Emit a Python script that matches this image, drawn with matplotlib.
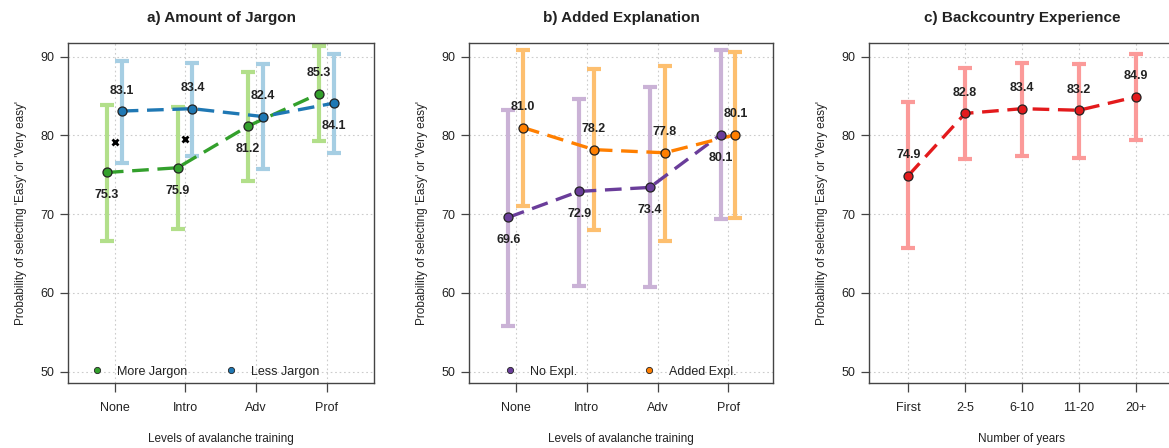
import matplotlib

matplotlib.use('Agg')
import matplotlib.pyplot as plt
from matplotlib.lines import Line2D
import numpy as np

plt.rcParams['font.family'] = ['Liberation Sans', 'DejaVu Sans']

# --- data ---
training = ['None', 'Intro', 'Adv', 'Prof']
years = ['First', '2-5', '6-10', '11-20', '20+']

more_jargon = [75.3, 75.9, 81.2, 85.3]
more_jargon_lo = [66.6, 68.1, 74.2, 79.3]
more_jargon_hi = [83.9, 83.6, 88.1, 91.3]
less_jargon = [83.1, 83.4, 82.4, 84.1]
less_jargon_lo = [76.5, 77.4, 75.8, 77.8]
less_jargon_hi = [89.5, 89.2, 89.1, 90.4]
jargon_cross = [79.2, 79.6]  # black x markers at None / Intro

no_expl = [69.6, 72.9, 73.4, 80.1]
no_expl_lo = [55.8, 60.9, 60.7, 69.4]
no_expl_hi = [83.2, 84.6, 86.1, 90.9]
added_expl = [81.0, 78.2, 77.8, 80.1]
added_expl_lo = [71.1, 68.0, 66.6, 69.5]
added_expl_hi = [90.9, 88.4, 88.8, 90.6]

experience = [74.9, 82.8, 83.4, 83.2, 84.9]
experience_lo = [65.7, 77.0, 77.4, 77.2, 79.4]
experience_hi = [84.2, 88.6, 89.2, 89.1, 90.3]

W, H = 1169, 448
fig = plt.figure(figsize=(W / 100, H / 100), dpi=100)

TXT = '#222222'
SPINE = '#444444'
YLIM = (48.57, 91.74)


def setup_axes(ax, labels, xlim, title, xlabel):
    x = np.arange(1, len(labels) + 1)
    ax.set_xlim(*xlim)
    ax.set_ylim(*YLIM)
    ax.set_xticks(x)
    ax.set_xticklabels(labels)
    ax.set_yticks([50, 60, 70, 80, 90])
    ax.grid(True, color='#cccccc', linestyle=(0, (1.5, 2.5)), linewidth=0.8)
    ax.set_axisbelow(True)
    ax.tick_params(axis='both', direction='out', width=0.9,
                   colors=SPINE, labelcolor=TXT, labelsize=9)
    ax.tick_params(axis='x', length=6.5, pad=7)
    ax.tick_params(axis='y', length=5.5, pad=4)
    for s in ax.spines.values():
        s.set_color(SPINE)
        s.set_linewidth(1.0)
    ax.set_title(title, fontsize=11, fontweight='bold', color=TXT, pad=15)
    ax.set_xlabel(xlabel, fontsize=8.5, color=TXT, labelpad=14)
    ax.set_ylabel("Probability of selecting 'Easy' or 'Very easy'",
                  fontsize=8.5, color=TXT, labelpad=10)


def draw_series(ax, xpos, vals, lo, hi, dark, light, label_side):
    yerr = [np.array(vals) - np.array(lo), np.array(hi) - np.array(vals)]
    ax.errorbar(xpos, vals, yerr=yerr, fmt='none', ecolor=light,
                elinewidth=3, capsize=5, capthick=3, zorder=2)
    ax.plot(xpos, vals, color=dark, lw=2.4, dashes=(5, 2.6), zorder=3)
    ax.plot(xpos, vals, 'o', ms=6.5, mfc=dark, mec='#222222', mew=0.9,
            zorder=4)
    for xi, v, side in zip(xpos, vals, label_side):
        off = 2.6 if side > 0 else -2.9
        ax.text(xi, v + off, f'{v:.1f}', ha='center', va='center',
                fontsize=9, fontweight='bold', color=TXT, zorder=5)


def add_legend(ax, names, colors, anchor, colspace):
    handles = [Line2D([], [], ls='none', marker='o', ms=4.5, mfc=c,
                      mec='#222222', mew=0.6) for c in colors]
    ax.legend(handles, names, ncol=2, frameon=False, loc='center left',
              bbox_to_anchor=anchor, fontsize=9, handlelength=0.8,
              handletextpad=1.2, columnspacing=colspace, labelcolor=TXT,
              borderaxespad=0, borderpad=0)


# a) Amount of Jargon
ax1 = fig.add_axes([68 / W, 1 - 383 / H, 306 / W, 340 / H])
x4 = np.arange(1, 5)
draw_series(ax1, x4 - 0.11, more_jargon, more_jargon_lo, more_jargon_hi,
            '#33A02C', '#B2DF8A', [-1, -1, -1, 1])
draw_series(ax1, x4 + 0.1, less_jargon, less_jargon_lo, less_jargon_hi,
            '#1F78B4', '#A6CEE3', [1, 1, 1, -1])
ax1.plot(x4[:len(jargon_cross)], jargon_cross, 'x', color='black', ms=5,
         mew=2, zorder=5)
setup_axes(ax1, training, (0.34, 4.67), 'a) Amount of Jargon',
           'Levels of avalanche training')
add_legend(ax1, ['More Jargon', 'Less Jargon'], ['#33A02C', '#1F78B4'],
           (0.08, 0.033), 3.1)

# b) Added Explanation
ax2 = fig.add_axes([469 / W, 1 - 383 / H, 304 / W, 340 / H])
draw_series(ax2, x4 - 0.11, no_expl, no_expl_lo, no_expl_hi,
            '#6A3D9A', '#CAB2D6', [-1, -1, -1, -1])
draw_series(ax2, x4 + 0.1, added_expl, added_expl_lo, added_expl_hi,
            '#FF7F00', '#FDBF6F', [1, 1, 1, 1])
setup_axes(ax2, training, (0.335, 4.63), 'b) Added Explanation',
           'Levels of avalanche training')
add_legend(ax2, ['No Expl.', 'Added Expl.'], ['#6A3D9A', '#FF7F00'],
           (0.12, 0.033), 5.3)

# c) Backcountry Experience
ax3 = fig.add_axes([869 / W, 1 - 383 / H, 306 / W, 340 / H])
x5 = np.arange(1, 6)
draw_series(ax3, x5, experience, experience_lo, experience_hi,
            '#E31A1C', '#FB9A99', [1] * 5)
setup_axes(ax3, years, (0.31, 5.69), 'c) Backcountry Experience',
           'Number of years')

fig.savefig('out.png', dpi=100)
